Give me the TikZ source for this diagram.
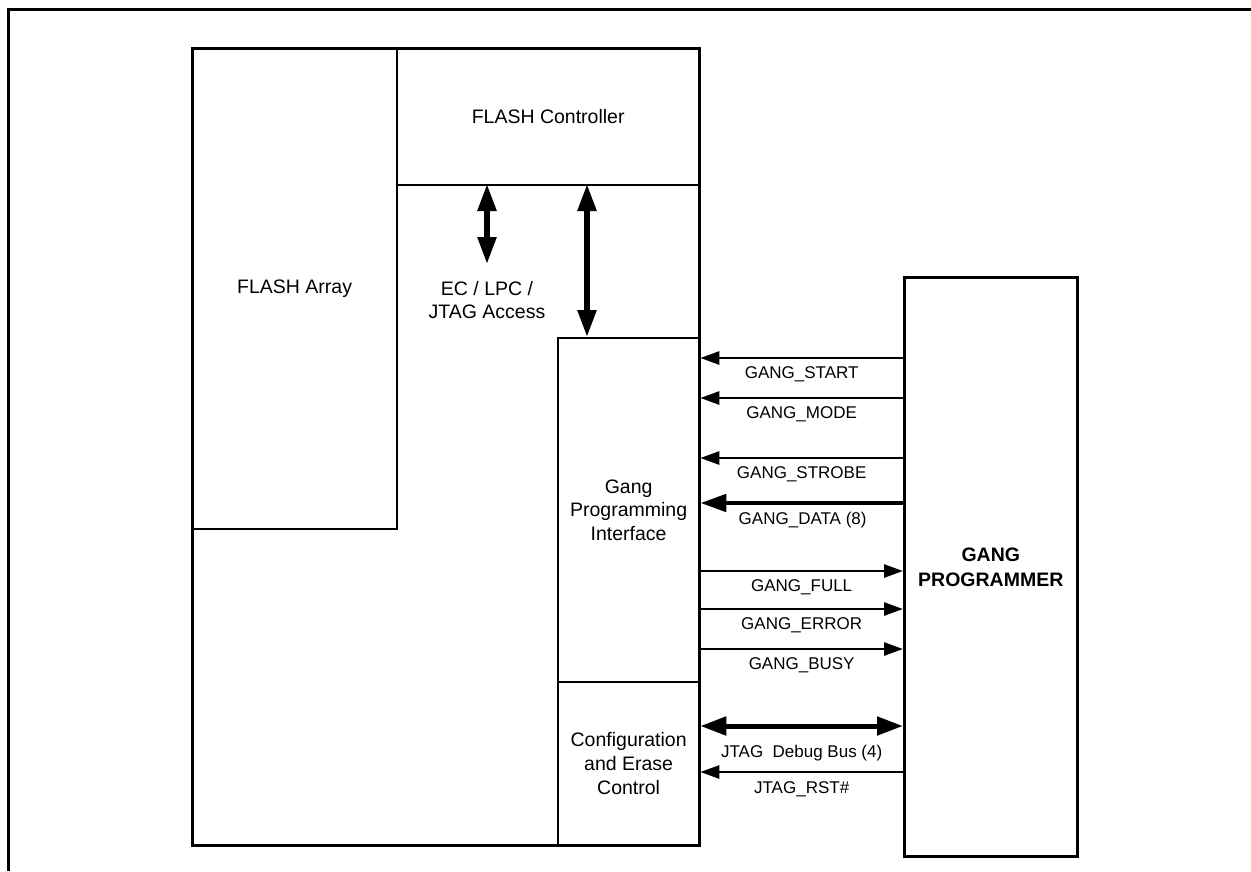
\documentclass[tikz,border=0pt]{standalone}
\usepackage{fontspec}
\setmainfont{Liberation Sans}
\usetikzlibrary{arrows.meta}
\begin{document}
\begin{tikzpicture}[x=1pt,y=-1pt,
  blk/.style={draw, line width=2.3pt, inner sep=0pt, anchor=north west, align=center,
              font=\fontsize{19.5}{23.8}\selectfont},
  txt/.style={align=center, inner sep=0pt, font=\fontsize{19.5}{23.8}\selectfont},
  lbl/.style={font=\fontsize{17}{20}\selectfont, anchor=base, inner sep=0pt},
  sig/.style={line width=2.6pt, -{Triangle[length=19pt,width=13pt]}},
  thick bus/.style={line width=4.8pt, -{Triangle[length=26pt,width=17pt]}},
  bus/.style={line width=5pt, {Triangle[length=26pt,width=18pt]}-{Triangle[length=26pt,width=18pt]}},
  vbus/.style={line width=5.5pt, {Triangle[length=27pt,width=18pt]}-{Triangle[length=27pt,width=18pt]}}]
\useasboundingbox (0,0) rectangle (1251,871);
% outer frame (cropped)
\draw[line width=3pt] (8,871) -- (8,9) -- (1251,9);
% blocks
\node[blk, line width=2.8pt, minimum width=507pt, minimum height=797pt] (chip) at (191,47) {};
\node[blk, minimum width=205pt, minimum height=481pt] (fa) at (191,47) {FLASH Array};
\node[blk, minimum width=302pt, minimum height=137pt] (fc) at (396,47) {FLASH Controller};
\node[blk, minimum width=141pt, minimum height=344pt] (gpi) at (557,337) {Gang\\Programming\\Interface};
\node[blk, minimum width=141pt, minimum height=163pt] (cec) at (557,681) {Configuration\\and Erase\\Control};
\node[blk, line width=2.6pt, minimum width=173pt, minimum height=579pt, font=\fontsize{19.5}{25}\selectfont\bfseries] (prog) at (903,276) {GANG\\PROGRAMMER};
% free label
\node[txt] (acc) at (487,300) {EC / LPC /\\JTAG Access};
% vertical buses
\coordinate (v1) at (487,184);
\coordinate (v1e) at (487,264);
\coordinate (v2) at (587,184);
\draw[vbus] (v1) -- (v1e);
\draw[vbus] (v2) -- (v2 |- gpi.north);
% signal levels
\foreach \n/\y in {s1/358,s2/398,s3/458,s4/503,s5/571,s6/609,s7/649,s8/726,s9/772}
  \coordinate (\n) at (0,\y);
\draw[sig] (prog.west |- s1) -- (gpi.east |- s1) node[lbl, midway, yshift=-20pt] {GANG\_START};
\draw[sig] (prog.west |- s2) -- (gpi.east |- s2) node[lbl, midway, yshift=-20pt] {GANG\_MODE};
\draw[sig] (prog.west |- s3) -- (gpi.east |- s3) node[lbl, midway, yshift=-20pt] {GANG\_STROBE};
\draw[thick bus] ([xshift=2pt]prog.west |- s4) -- (gpi.east |- s4) node[lbl, midway, yshift=-21pt] {GANG\_DATA (8)};
\draw[sig] (gpi.east |- s5) -- (prog.west |- s5) node[lbl, midway, yshift=-20pt] {GANG\_FULL};
\draw[sig] (gpi.east |- s6) -- (prog.west |- s6) node[lbl, midway, yshift=-20pt] {GANG\_ERROR};
\draw[sig] (gpi.east |- s7) -- (prog.west |- s7) node[lbl, midway, yshift=-20pt] {GANG\_BUSY};
\draw[bus] (cec.east |- s8) -- (prog.west |- s8) node[lbl, midway, yshift=-31pt] {JTAG\ \ Debug Bus (4)};
\draw[sig] (prog.west |- s9) -- (cec.east |- s9) node[lbl, midway, yshift=-21pt] {JTAG\_RST\#};
\end{tikzpicture}
\end{document}
